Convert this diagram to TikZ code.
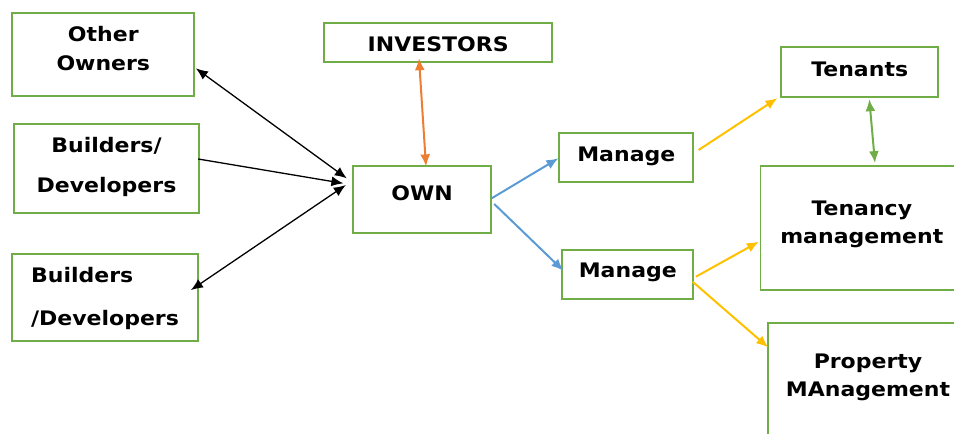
\documentclass[tikz,border=0pt]{standalone}
\usepackage{fontspec}
\setmainfont[FakeStretch=1.1]{DejaVu Sans}
\usetikzlibrary{arrows.meta}
\definecolor{boxgreen}{HTML}{70AD47}
\definecolor{arrorange}{HTML}{ED7D31}
\definecolor{arrblue}{HTML}{5B9BD5}
\definecolor{arryellow}{HTML}{FFC000}
\begin{document}
\begin{tikzpicture}[x=1pt,y=-1pt,>={Latex[length=12pt,width=10pt]},
		box/.style={draw=boxgreen,line width=1.8pt,inner xsep=0pt,inner ysep=0pt,anchor=base,
			align=center,font=\fontsize{20}{22}\selectfont\bfseries},
		blk/.style={line width=1.3pt,black},
		clr/.style={line width=2pt}]
		\useasboundingbox (0,0) rectangle (954,434);
		% owners side
		\node[box,minimum width=182pt,text height=56.7pt,text depth=26pt] (oo) at (103.3,70) {Other\\[6.3pt]Owners};
		\node[box,minimum width=185.6pt,text height=68.3pt,text depth=20.7pt] (bd1) at (106.5,192.3) {Builders/\\[18pt]Developers};
		\node[box,align=left,minimum width=185.4pt,text height=70.7pt,text depth=15.7pt] (bd2) at (105,325) {Builders\\[20.7pt]/Developers};
		\node[box,minimum width=228.3pt,text height=28.4pt,text depth=10.6pt] (inv) at (438.2,51.7) {INVESTORS};
		\node[box,minimum width=137.4pt,text height=34pt,text depth=33.3pt] (own) at (422,200) {OWN};
		% managing side
		\node[box,minimum width=134pt,text height=28.3pt,text depth=20.7pt] (mg1) at (626.3,161) {Manage};
		\node[box,minimum width=131pt,text height=27.7pt,text depth=21.3pt] (mg2) at (627.8,277.7) {Manage};
		\node[box,minimum width=157.3pt,text height=28.7pt,text depth=20.7pt] (ten) at (859.7,76) {Tenants};
		\node[box,minimum width=202.6pt,text height=77.3pt,text depth=46.7pt] (tm) at (861.8,243.3) {Tenancy\\[6.3pt]management};
		\node[box,minimum width=199.7pt,text height=72.7pt,text depth=74pt] (pm) at (868,396) {Property\\[5.7pt]MAnagement};
		% connectors
		\draw[blk,<->] ([xshift=0.7pt,yshift=-13.7pt]oo.east) -- ([xshift=-5.6pt,yshift=21.3pt]own.west);
		\draw[blk,->] ([xshift=-2pt,yshift=9.5pt]bd1.east) -- ([xshift=-9pt,yshift=16.3pt]own.west);
		\draw[blk,<->] ([xshift=-7.7pt,yshift=7.4pt]bd2.east) -- ([xshift=-6.6pt,yshift=14.6pt]own.west);
		\draw[clr,arrorange,<->] ([xshift=-19.2pt,yshift=5pt]inv.south) -- ([xshift=4pt,yshift=-1.3pt]own.north);
		\draw[clr,arrblue,->] ([yshift=1.3pt]own.east) -- ([yshift=-1.1pt]mg1.west);
		\draw[clr,arrblue,->] ([xshift=2.6pt,yshift=-4.3pt]own.east) -- ([xshift=2pt,yshift=3.8pt]mg2.west);
		\draw[clr,arryellow,->] ([xshift=4.4pt,yshift=7.2pt]mg1.east) -- ([xshift=-2.7pt,yshift=-0.6pt]ten.south west);
		\draw[clr,boxgreen,<->] ([xshift=9.6pt,yshift=-1.6pt]ten.south) -- ([xshift=13.2pt,yshift=2pt]tm.north);
		\draw[clr,arryellow,->] ([xshift=1.7pt,yshift=-2.2pt]mg2.east) -- ([xshift=-0.7pt,yshift=-13.7pt]tm.west);
		\draw[clr,arryellow,->] ([xshift=-1.6pt,yshift=-7.2pt]mg2.east) -- ([xshift=1pt,yshift=-25pt]pm.north west);
	\end{tikzpicture}
\end{document}
